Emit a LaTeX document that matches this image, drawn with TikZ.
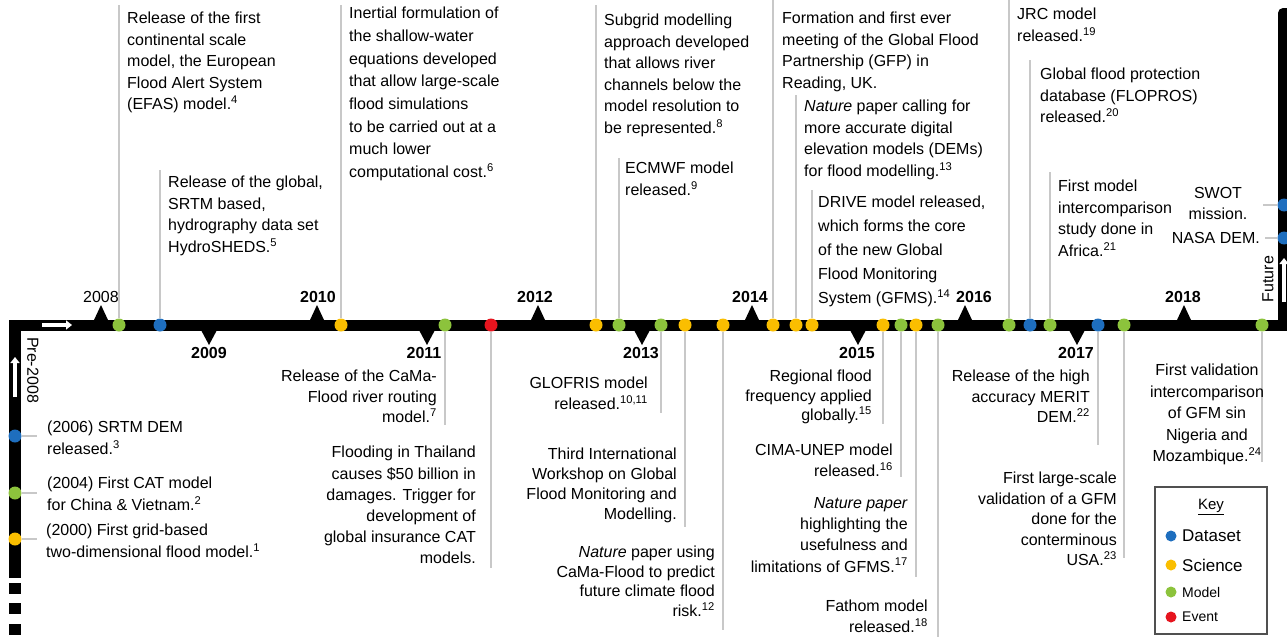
\documentclass[tikz,border=0pt]{standalone}
\usepackage{fontspec}
\setmainfont{Liberation Sans}
\usetikzlibrary{arrows.meta}
\definecolor{cData}{RGB}{30,110,190}
\definecolor{cSci}{RGB}{250,190,0}
\definecolor{cMod}{RGB}{140,195,60}
\definecolor{cEvt}{RGB}{230,20,30}
\definecolor{leadc}{RGB}{200,200,200}
\definecolor{keyc}{RGB}{80,80,80}
\begin{document}
\begin{tikzpicture}[x=1pt,y=-1pt,
  txt/.style={font=\fontsize{16}{21.5}\selectfont, inner sep=0pt, align=left},
  txtr/.style={font=\fontsize{16}{20.5}\selectfont, inner sep=0pt, align=right, anchor=north east},
  txtl/.style={txt, anchor=north west},
  dot/.style={circle, fill=#1, minimum size=13pt, inner sep=0pt},
  leader/.style={draw=leadc, line width=2pt},
  yr/.style={font=\fontsize{16}{19}\selectfont\bfseries, inner sep=0pt},
  warrow/.style={draw=white, line width=4pt, -{Triangle[width=9pt,length=6pt]}},
  keytxt/.style={anchor=west, inner sep=0pt}]
\useasboundingbox (0,0) rectangle (1287,637);
\clip (0,0) rectangle (1287,637);
% timeline bars
\fill[black] (9,319.5) rectangle (1290,330.5);
\fill[black] (9,319.5) rectangle (21,578);
\fill[black] (9,583) rectangle (21,594);
\fill[black] (9,603) rectangle (21,614);
\fill[black] (9,624) rectangle (21,635);
\fill[black, rounded corners=5pt] (1278,330.5) -- (1278,8) -- (1295,8) -- (1295,330.5) -- cycle;
% white arrows
\draw[warrow] (42,325) -- (72,325);
\draw[warrow] (15,397) -- (15,357);
\draw[warrow] (1284,302) -- (1284,258);
% year ticks
\foreach \x in {101,317,538,752,965,1184}
  \fill[black] (\x-7,320) -- (\x,305) -- (\x+7,320) -- cycle;
\foreach \x in {209,427,642,858,1077}
  \fill[black] (\x-8,330) -- (\x,345) -- (\x+8,330) -- cycle;
\node[yr, font=\fontsize{16}{19}\selectfont] (y2008) at (101,297) {2008};
\node[yr] (y2009) at (209,353) {2009};
\node[yr] (y2010) at (318,297) {2010};
\node[yr] (y2011) at (424,353) {2011};
\node[yr] (y2012) at (535,297) {2012};
\node[yr] (y2013) at (641,353) {2013};
\node[yr] (y2014) at (750,297) {2014};
\node[yr] (y2015) at (857,353) {2015};
\node[yr] (y2016) at (974,297) {2016};
\node[yr] (y2017) at (1076,353) {2017};
\node[yr] (y2018) at (1183,297) {2018};
\node[font=\fontsize{16}{19}\selectfont, rotate=-90, inner sep=0pt] (pre) at (33,370) {Pre-2008};
\node[font=\fontsize{16}{19}\selectfont, rotate=90, inner sep=0pt] (fut) at (1268,279) {Future};
% dots on the timeline
\node[dot=cMod] (d1) at (119,325) {};
\node[dot=cData] (d2) at (160,325) {};
\node[dot=cSci] (d3) at (341,325) {};
\node[dot=cMod] (d4) at (445,325) {};
\node[dot=cEvt] (d5) at (491,325) {};
\node[dot=cSci] (d6) at (596,325) {};
\node[dot=cMod] (d7) at (619,325) {};
\node[dot=cMod] (d8) at (661,325) {};
\node[dot=cSci] (d9) at (685,325) {};
\node[dot=cSci] (d10) at (723,325) {};
\node[dot=cSci] (d11) at (773,325) {};
\node[dot=cSci] (d12) at (796,325) {};
\node[dot=cSci] (d13) at (812,325) {};
\node[dot=cSci] (d14) at (883,325) {};
\node[dot=cMod] (d15) at (901,325) {};
\node[dot=cSci] (d16) at (916,325) {};
\node[dot=cMod] (d17) at (938,325) {};
\node[dot=cMod] (d18) at (1009,325) {};
\node[dot=cData] (d19) at (1030,325) {};
\node[dot=cMod] (d20) at (1050,325) {};
\node[dot=cData] (d21) at (1098,325) {};
\node[dot=cMod] (d22) at (1124,325) {};
\node[dot=cMod] (d23) at (1262,325) {};
\node[dot=cData] (l1) at (15,436) {};
\node[dot=cMod] (l2) at (15,493) {};
\node[dot=cSci] (l3) at (15,539) {};
\node[dot=cData] (r1) at (1284,205) {};
\node[dot=cData] (r2) at (1284,238) {};
% leader end points
\coordinate (e1) at (119,5);
\coordinate (e2) at (160,170);
\coordinate (e3) at (341,5);
\coordinate (e4) at (445,425);
\coordinate (e5) at (491,568);
\coordinate (e6) at (596,5);
\coordinate (e7) at (619,158);
\coordinate (e8) at (661,413);
\coordinate (e9) at (685,527);
\coordinate (e10) at (723,630);
\coordinate (e11) at (773,0);
\coordinate (e12) at (796,95);
\coordinate (e13) at (812,190);
\coordinate (e14) at (883,424);
\coordinate (e15) at (901,477);
\coordinate (e16) at (916,577);
\coordinate (e17) at (938,637);
\coordinate (e18) at (1009,0);
\coordinate (e19) at (1030,60);
\coordinate (e20) at (1050,172);
\coordinate (e21) at (1098,445);
\coordinate (e22) at (1124,558);
\coordinate (e23) at (1262,462);
\coordinate (el1) at (37,436);
\coordinate (el2) at (37,493);
\coordinate (el3) at (37,539);
\coordinate (er1) at (1263,205);
\coordinate (er2) at (1265,238);
\foreach \i in {1,...,23} \draw[leader] (d\i) -- (e\i);
\foreach \i in {1,2,3} \draw[leader] (l\i) -- (el\i);
\foreach \i in {1,2} \draw[leader] (r\i) -- (er\i);
% upper texts
\node[txtl] (t1) at (127,12) {Release of the first\\continental scale\\model, the European\\Flood Alert System\\(EFAS) model.\textsuperscript{4}};
\node[txtl] (t2) at (168,176) {Release of the global,\\SRTM based,\\hydrography data set\\HydroSHEDS.\textsuperscript{5}};
\node[txtl, font=\fontsize{16}{22.7}\selectfont] (t3) at (349,7) {Inertial formulation of\\the shallow-water\\equations developed\\that allow large-scale\\flood simulations\\to be carried out at a\\much lower\\computational cost.\textsuperscript{6}};
\node[txtl] (t6) at (604,14) {Subgrid modelling\\approach developed\\that allows river\\channels below the\\model resolution to\\be represented.\textsuperscript{8}};
\node[txtl] (t7) at (625,162) {ECMWF model\\released.\textsuperscript{9}};
\node[txtl] (t11) at (782,12) {Formation and first ever\\meeting of the Global Flood\\Partnership (GFP) in\\Reading, UK.};
\node[txtl] (t12) at (804,100) {\textit{Nature} paper calling for\\more accurate digital\\elevation models (DEMs)\\for flood modelling.\textsuperscript{13}};
\node[txtl, font=\fontsize{16}{24}\selectfont] (t13) at (818,196) {DRIVE model released,\\which forms the core\\of the new Global\\Flood Monitoring\\System (GFMS).\textsuperscript{14}};
\node[txtl] (t18) at (1017,8) {JRC model\\released.\textsuperscript{19}};
\node[txtl] (t19) at (1040,68) {Global flood protection\\database (FLOPROS)\\released.\textsuperscript{20}};
\node[txtl] (t20) at (1058,180) {First model\\intercomparison\\study done in\\Africa.\textsuperscript{21}};
\node[txt, align=center, anchor=north] (tr1) at (1218,187) {SWOT\\mission.};
\node[txt, anchor=north east] (tr2) at (1260,232) {NASA DEM.};
% lower texts
\node[txtr] (t4) at (437,370) {Release of the CaMa-\\Flood river routing\\model.\textsuperscript{7}};
\node[txtr, font=\fontsize{16}{21.2}\selectfont] (t5) at (476,446) {Flooding in Thailand\\causes \$50 billion in\\damages. Trigger for\\development of\\global insurance CAT\\models.};
\node[txtr] (t8) at (648,377) {GLOFRIS model\\released.\textsuperscript{10,11}};
\node[txtr, font=\fontsize{16}{19.8}\selectfont] (t9) at (677,448) {Third International\\Workshop on Global\\Flood Monitoring and\\Modelling.};
\node[txtr, font=\fontsize{16}{19.5}\selectfont] (t10) at (715,546) {\textit{Nature} paper using\\CaMa-Flood to predict\\future climate flood\\risk.\textsuperscript{12}};
\node[txtr, font=\fontsize{16}{19.5}\selectfont] (t14) at (872,370) {Regional flood\\frequency applied\\globally.\textsuperscript{15}};
\node[txtr] (t15) at (893,444) {CIMA-UNEP model\\released.\textsuperscript{16}};
\node[txtr, font=\fontsize{16}{21.3}\selectfont] (t16) at (908,497) {\textit{Nature paper}\\highlighting the\\usefulness and\\limitations of GFMS.\textsuperscript{17}};
\node[txtr] (t17) at (928,600) {Fathom model\\released.\textsuperscript{18}};
\node[txtr] (t21) at (1090,370) {Release of the high\\accuracy MERIT\\DEM.\textsuperscript{22}};
\node[txtr] (t22) at (1117,472) {First large-scale\\validation of a GFM\\done for the\\conterminous\\USA.\textsuperscript{23}};
\node[txt, align=center, anchor=north] (t23) at (1207,364) {First validation\\intercomparison\\of GFM sin\\Nigeria and\\Mozambique.\textsuperscript{24}};
% left texts
\node[txtl] (tl1) at (47,421) {(2006) SRTM DEM\\released.\textsuperscript{3}};
\node[txtl] (tl2) at (47,477) {(2004) First CAT model\\for China \& Vietnam.\textsuperscript{2}};
\node[txtl] (tl3) at (46,524) {(2000) First grid-based\\two-dimensional flood model.\textsuperscript{1}};
% key
\draw[keyc, line width=2pt, fill=white] (1155,487) rectangle (1267,634);
\node[font=\fontsize{15}{18}\selectfont, inner sep=0pt] (keyt) at (1211,507) {\underline{Key}};
\node[dot=cData, minimum size=11pt] (k1) at (1171,536) {};
\node[dot=cSci, minimum size=11pt] (k2) at (1171,565) {};
\node[dot=cMod, minimum size=11pt] (k3) at (1171,592) {};
\node[dot=cEvt, minimum size=11pt] (k4) at (1171,617) {};
\node[keytxt, font=\fontsize{17}{20}\selectfont] (kt1) at (1182,536) {Dataset};
\node[keytxt, font=\fontsize{17}{20}\selectfont] (kt2) at (1182,565) {Science};
\node[keytxt, font=\fontsize{14}{17}\selectfont] (kt3) at (1182,592) {Model};
\node[keytxt, font=\fontsize{14}{17}\selectfont] (kt4) at (1182,617) {Event};
\end{tikzpicture}
\end{document}
